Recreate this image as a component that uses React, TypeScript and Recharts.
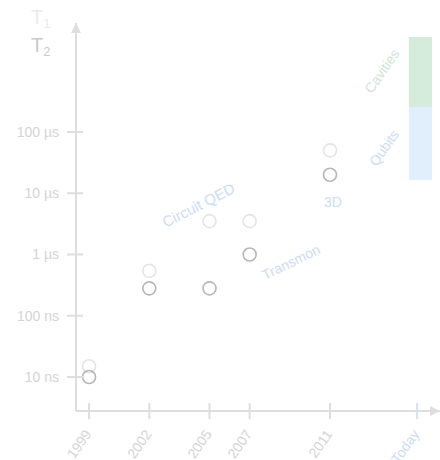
import React from "react";
import { ScatterChart, Scatter, XAxis, YAxis, ReferenceArea, ReferenceDot } from "recharts";

// coherence times in ns, per year
const years = [1999, 2002, 2005, 2007, 2011];
const t1Values = [15, 540, 3500, 3500, 50000];
const t2Values = [10, 280, 280, 1000, 20000];

const TODAY = 2015.33;
const xTicks = [...years, TODAY];
const yTicks = [10, 100, 1000, 10000, 100000];
const yTickLabels = ["10 ns", "100 ns", "1 µs", "10 µs", "100 µs"];

// ranges reached today (ns)
const qubitRange = [16400, 256000];
const cavityRange = [256000, 3560000];

const X_DOMAIN: [number, number] = [1998.35, 2016.48];
const Y_DOMAIN: [number, number] = [2.79, 6.0e6];

const FONT = '"Liberation Sans", Arial, sans-serif';
const AXIS = "#dedede";
const TICK_TEXT = "#d4d4d4";
const BLUE_TEXT = "#cbdcf4";
const GREEN_TEXT = "#cde6d3";

const t1Data = years.map((year, i) => ({ year, value: t1Values[i] }));
const t2Data = years.map((year, i) => ({ year, value: t2Values[i] }));

const ring = (stroke: string) => (props: any) =>
  <circle cx={props.cx} cy={props.cy} r={6.5} fill="none" stroke={stroke} strokeWidth={1.6} />;

function YTick({ x, y, payload }: any) {
  const i = yTicks.indexOf(payload.value);
  return (
    <g>
      <line x1={x - 9} x2={x + 7} y1={y} y2={y} stroke={AXIS} strokeWidth={2} />
      <text x={x - 17} y={y + 5} textAnchor="end" fontSize={14} fontFamily={FONT} fill={TICK_TEXT}>
        {yTickLabels[i]}
      </text>
    </g>
  );
}

function XTick({ x, y, payload }: any) {
  const today = payload.value === TODAY;
  const color = today ? BLUE_TEXT : TICK_TEXT;
  const ax = x + 3;
  const ay = y + 23;
  return (
    <g>
      <line x1={x} x2={x} y1={y - 8} y2={y + 8} stroke={today ? "#d2e2f7" : AXIS} strokeWidth={2} />
      <text x={ax} y={ay} textAnchor="end" fontSize={14} fontFamily={FONT} fill={color}
        transform={`rotate(-55 ${ax} ${ay})`}>
        {today ? "Today" : payload.value}
      </text>
    </g>
  );
}

const note = (text: string, color: string, angle: number, size = 14) => (props: any) => (
  <text x={props.cx} y={props.cy} textAnchor="middle" dominantBaseline="central" fontSize={size}
    fontFamily={FONT} fill={color} transform={`rotate(${angle} ${props.cx} ${props.cy})`}>
    {text}
  </text>
);

export default function App() {
  return (
    <div style={{ position: "fixed", left: 0, top: 0, width: 440, height: 460, background: "#fff" }}>
      <ScatterChart width={440} height={460} margin={{ top: 23, right: 0, bottom: 0, left: 0 }}>
        <XAxis type="number" dataKey="year" domain={X_DOMAIN} allowDataOverflow ticks={xTicks} interval={0}
          height={49} tickSize={0} tickMargin={0} tickLine={false}
          axisLine={{ stroke: AXIS, strokeWidth: 2 }} tick={<XTick />} />
        <YAxis type="number" dataKey="value" scale="log" domain={Y_DOMAIN} allowDataOverflow ticks={yTicks}
          interval={0} width={76} tickSize={0} tickMargin={0} tickLine={false}
          axisLine={{ stroke: AXIS, strokeWidth: 2 }} tick={<YTick />} />

        <ReferenceArea x1={2014.93} x2={2016.08} y1={qubitRange[0]} y2={qubitRange[1]}
          fill="#e1eefc" fillOpacity={1} ifOverflow="visible" />
        <ReferenceArea x1={2014.93} x2={2016.08} y1={cavityRange[0]} y2={cavityRange[1]}
          fill="#d5ebdb" fillOpacity={1} ifOverflow="visible" />

        <Scatter data={t1Data} isAnimationActive={false} shape={ring("#e4e4e4")} />
        <Scatter data={t2Data} isAnimationActive={false} shape={ring("#b6b6b6")} />

        <ReferenceDot x={2004.45} y={6430} ifOverflow="visible" shape={note("Circuit QED", BLUE_TEXT, -27, 15)} />
        <ReferenceDot x={2009.06} y={755} ifOverflow="visible" shape={note("Transmon", BLUE_TEXT, -26)} />
        <ReferenceDot x={2011.15} y={7200} ifOverflow="visible" shape={note("3D", BLUE_TEXT, 0)} />
        <ReferenceDot x={2013.59} y={990000} ifOverflow="visible" shape={note("Cavities", GREEN_TEXT, -55)} />
        <ReferenceDot x={2013.69} y={55000} ifOverflow="visible" shape={note("Qubits", BLUE_TEXT, -55)} />

        {/* axis arrowheads */}
        <ReferenceDot x={X_DOMAIN[1]} y={Y_DOMAIN[0]} ifOverflow="visible"
          shape={(p: any) => <polygon points={`${p.cx},${p.cy} ${p.cx - 10},${p.cy - 5} ${p.cx - 10},${p.cy + 5}`} fill={AXIS} />} />
        <ReferenceDot x={X_DOMAIN[0]} y={Y_DOMAIN[1]} ifOverflow="visible"
          shape={(p: any) => <polygon points={`${p.cx},${p.cy} ${p.cx - 5},${p.cy + 10} ${p.cx + 5},${p.cy + 10}`} fill={AXIS} />} />
      </ScatterChart>

      <svg width={80} height={60} style={{ position: "absolute", left: 0, top: 0 }}>
        <text x={31} y={24} fontSize={20} fontFamily={FONT} fill="#ebebeb">
          T<tspan fontSize={13} dy={4}>1</tspan>
        </text>
        <text x={31} y={52} fontSize={20} fontFamily={FONT} fill="#c9c9c9">
          T<tspan fontSize={13} dy={4}>2</tspan>
        </text>
      </svg>
    </div>
  );
}
